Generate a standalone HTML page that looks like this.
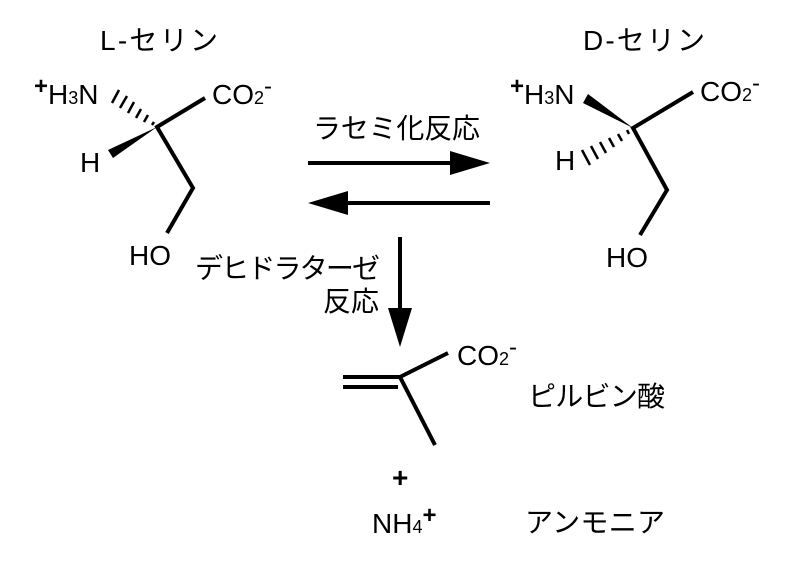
<!DOCTYPE html>
<html><head><meta charset="utf-8"><style>
html,body{margin:0;padding:0;background:#fff;}
svg text{font-family:"Liberation Sans","Noto Sans CJK JP",sans-serif;fill:#000;}
</style></head><body>
<svg width="800" height="568" viewBox="0 0 800 568" xmlns="http://www.w3.org/2000/svg">
<g font-size="28">
<text x="100" y="50" textLength="118">L-セリン</text>
<text x="583" y="50" textLength="122">D-セリン</text>
<text x="313" y="138" textLength="167">ラセミ化反応</text>
<text x="195" y="278" textLength="185">デヒドラターゼ</text>
<text x="323" y="311">反応</text>
<text x="528" y="406" textLength="137">ピルビン酸</text>
<text x="525" y="532" textLength="140">アンモニア</text>
</g>
<g font-size="28">
<text x="34" y="104"><tspan font-size="24" font-weight="bold" dy="-10">+</tspan><tspan dy="10">H</tspan><tspan font-size="18">3</tspan>N</text>
<text x="212" y="104">CO<tspan font-size="18">2</tspan><tspan font-size="24" dy="-10">-</tspan></text>
<text x="80" y="172">H</text>
<text x="129" y="265">HO</text>
<text x="510" y="104"><tspan font-size="24" font-weight="bold" dy="-10">+</tspan><tspan dy="10">H</tspan><tspan font-size="18">3</tspan>N</text>
<text x="700" y="101">CO<tspan font-size="18">2</tspan><tspan font-size="24" dy="-10">-</tspan></text>
<text x="555" y="170">H</text>
<text x="606" y="267">HO</text>
<text x="457" y="365">CO<tspan font-size="18">2</tspan><tspan font-size="24" dy="-10">-</tspan></text>
<text x="392" y="487" font-weight="bold">+</text>
<text x="372" y="533">NH<tspan font-size="18">4</tspan><tspan font-size="24" font-weight="bold" dy="-10">+</tspan></text>
</g>
<g stroke="#000" stroke-width="4" fill="none" stroke-linecap="butt">
<polyline points="205,98 157,127 193,188 167,233"/>
<polyline points="693,92 633,128 667,190 640,235"/>
<polyline points="448,353 400,377 435,445"/>
<line x1="343" y1="377" x2="400" y2="377"/>
<line x1="343" y1="387" x2="398" y2="387"/>
<line x1="308" y1="163" x2="455" y2="163"/>
<line x1="345" y1="203" x2="490" y2="203"/>
<line x1="400" y1="237" x2="400" y2="315"/>
</g>
<g fill="#000">
<polygon points="490,163 450,151 450,175"/>
<polygon points="308,203 348,191 348,215"/>
<polygon points="400,347 388,308 412,308"/>
<polygon points="157,127 108,150 113,158"/>
<polygon points="633,128 588,94 583,103"/>
</g>
<g stroke="#000" stroke-width="2.5">
<line x1="152" y1="125" x2="154" y2="122"/>
<line x1="144" y1="122" x2="148" y2="115"/>
<line x1="136" y1="118" x2="141" y2="109"/>
<line x1="128" y1="113" x2="134" y2="102"/>
<line x1="120" y1="108" x2="127" y2="96"/>
<line x1="112" y1="103" x2="119" y2="90"/>
<line x1="627" y1="130" x2="629" y2="134"/>
<line x1="618" y1="134" x2="622" y2="141"/>
<line x1="609" y1="138" x2="614" y2="147"/>
<line x1="600" y1="142" x2="606" y2="153"/>
<line x1="591" y1="146" x2="598" y2="159"/>
<line x1="582" y1="150" x2="590" y2="165"/>
</g>
</svg>
</body></html>
